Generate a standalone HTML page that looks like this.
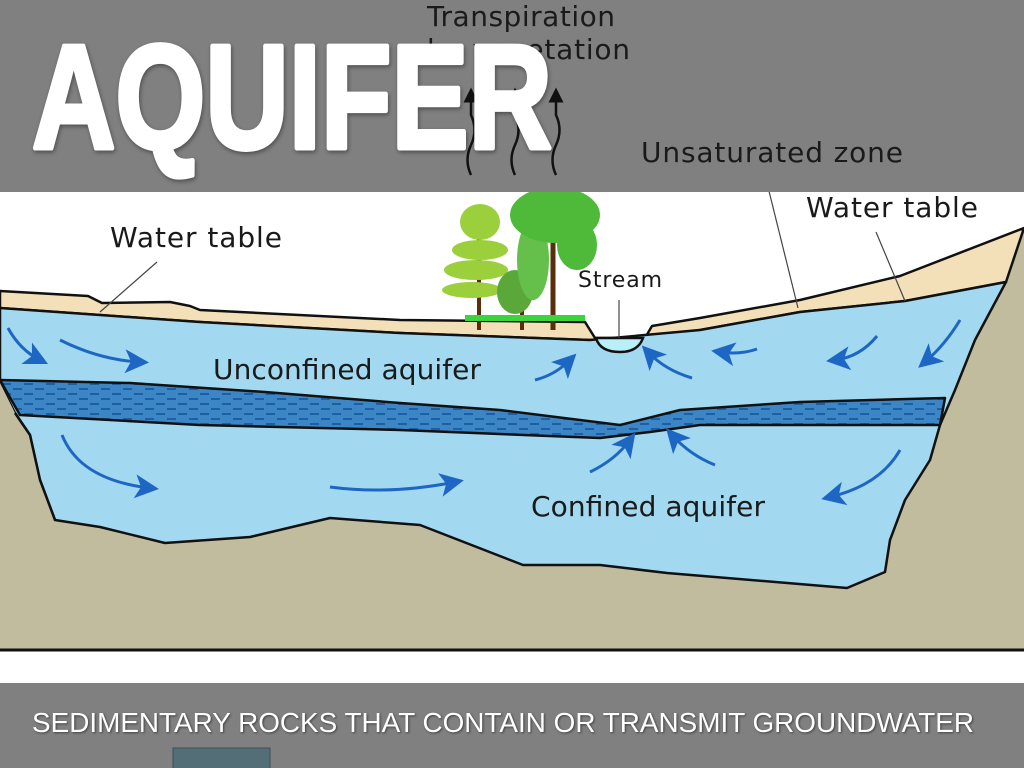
<!DOCTYPE html>
<html><head><meta charset="utf-8"><style>
html,body{margin:0;padding:0;width:1024px;height:768px;overflow:hidden;background:#fff}
svg{display:block}
</style></head><body>
<svg width="1024" height="768" viewBox="0 0 1024 768" xmlns="http://www.w3.org/2000/svg">
<defs>
<pattern id="dash" width="22" height="10" patternUnits="userSpaceOnUse">
<rect width="22" height="10" fill="#3d86c6"/>
<rect x="2" y="3" width="9" height="2" fill="#1d5fa6"/>
<rect x="13" y="8" width="9" height="2" fill="#1d5fa6"/>
</pattern>
<marker id="ah" markerWidth="8" markerHeight="8" refX="5" refY="4" orient="auto" markerUnits="strokeWidth">
<path d="M0,0 L8,4 L0,8 L2,4 z" fill="#1e66c4"/>
</marker>
<marker id="bh" markerWidth="6" markerHeight="6" refX="3" refY="3" orient="auto" markerUnits="strokeWidth">
<path d="M0,0 L6,3 L0,6 z" fill="#111"/>
</marker>
</defs>
<rect x="0" y="0" width="1024" height="768" fill="#fff"/>
<!-- ground -->
<path d="M0,320 L590,345 L1006,285 L1024,228 L1024,650 L0,650 z" fill="#c1bc9e"/>
<line x1="0" y1="650" x2="1024" y2="650" stroke="#111" stroke-width="3"/>
<!-- sand -->
<path d="M0,291 L88,296 L102,303 L170,302 L190,306 L200,310 L400,320 L585,322 L595,338 L645,338 L652,326 L700,318 L800,300 L900,276 L1024,228 L1006,282 L905,301 L800,312 L700,330 L645,338 L590,340 L400,333 L200,322 L100,315 L0,308 z" fill="#f3e0b8" stroke="#111" stroke-width="2.5" stroke-linejoin="round"/>
<!-- water body -->
<path d="M0,308 L100,315 L200,322 L400,333 L590,340 L700,330 L800,312 L905,301 L1006,282 L975,340 L955,390 L940,425 L930,460 L905,500 L890,540 L885,572 L847,588 L667,573 L600,565 L523,565 L420,525 L330,518 L250,537 L165,543 L100,527 L55,520 L40,480 L30,435 L15,413 L0,383 z" fill="#a2d9f0" stroke="#111" stroke-width="2.5" stroke-linejoin="round"/>
<!-- stream -->
<path d="M596,338 Q600,352 620,352 Q638,352 643,338 z" fill="#b9f0f8" stroke="#111" stroke-width="2.5"/>
<!-- confining layer -->
<path d="M0,380 L130,383 L265,392 L400,403 L500,410 L620,425 L680,410 L800,402 L945,398 L940,425 L800,425 L700,425 L650,432 L600,438 L400,430 L200,425 L20,415 z" fill="url(#dash)" stroke="#111" stroke-width="2.5" stroke-linejoin="round"/>
<!-- left ground edge -->
<path d="M0,383 L15,413 L30,435 L40,480 L55,520 L0,520 z" fill="#c1bc9e"/>
<path d="M15,413 L30,435 L40,480 L55,520" fill="none" stroke="#111" stroke-width="2.5"/>
<!-- flow arrows -->
<g fill="none" stroke="#1e66c4" stroke-width="3" marker-end="url(#ah)">
<path d="M8,328 Q20,350 40,360"/>
<path d="M60,340 Q100,360 140,362"/>
<path d="M535,380 Q555,375 570,360"/>
<path d="M692,378 Q665,370 648,352"/>
<path d="M757,349 Q740,355 720,352"/>
<path d="M877,336 Q860,357 835,360"/>
<path d="M960,320 Q945,345 925,362"/>
<path d="M62,435 Q80,480 150,488"/>
<path d="M330,487 Q390,495 455,482"/>
<path d="M590,472 Q615,460 630,440"/>
<path d="M715,465 Q690,455 672,435"/>
<path d="M900,450 Q880,485 830,497"/>
</g>
<!-- trees -->
<g>
<line x1="479" y1="225" x2="479" y2="330" stroke="#5a2d0c" stroke-width="4"/>
<line x1="522" y1="290" x2="522" y2="330" stroke="#5a2d0c" stroke-width="4"/>
<line x1="553" y1="215" x2="553" y2="330" stroke="#5a2d0c" stroke-width="5"/>
<ellipse cx="480" cy="222" rx="20" ry="18" fill="#9ccf3c"/>
<ellipse cx="480" cy="250" rx="28" ry="10" fill="#9ccf3c"/>
<ellipse cx="476" cy="270" rx="32" ry="10" fill="#9ccf3c"/>
<ellipse cx="472" cy="290" rx="30" ry="8" fill="#9ccf3c"/>
<ellipse cx="515" cy="292" rx="18" ry="22" fill="#5aa83a"/>
<ellipse cx="533" cy="260" rx="16" ry="40" fill="#64c04a"/>
<ellipse cx="555" cy="215" rx="45" ry="28" fill="#4fba3a"/>
<ellipse cx="577" cy="245" rx="20" ry="25" fill="#4fba3a"/>
<rect x="465" y="315" width="120" height="6" fill="#3cd43c"/>
</g>
<!-- leaders -->
<g stroke="#444" stroke-width="1.2">
<line x1="157" y1="262" x2="100" y2="312"/>
<line x1="765" y1="175" x2="798" y2="308"/>
<line x1="876" y1="232" x2="905" y2="301"/>
<line x1="619" y1="300" x2="619" y2="338"/>
</g>
<!-- diagram labels -->
<g font-family="DejaVu Sans, sans-serif" fill="#1a1a1a" lengthAdjust="spacingAndGlyphs">
<text x="110" y="247" font-size="28" textLength="172">Water table</text>
<text x="806" y="217" font-size="28" textLength="172">Water table</text>
<text x="578" y="287" font-size="22" textLength="84">Stream</text>
<text x="213" y="379" font-size="28" textLength="268">Unconfined aquifer</text>
<text x="531" y="516" font-size="28" textLength="234">Confined aquifer</text>
</g>
<!-- top banner -->
<rect x="0" y="0" width="1024" height="192" fill="#808080"/>
<g fill="none" stroke="#111" stroke-width="2.5" marker-end="url(#bh)">
<path d="M471,175 Q464,160 471,145 Q478,130 471,115 L471,95"/>
<path d="M515,175 Q508,160 515,145 Q522,130 515,115 L515,95"/>
<path d="M556,175 Q549,160 556,145 Q563,130 556,115 L556,95"/>
</g>
<g font-family="DejaVu Sans, sans-serif" fill="#1a1a1a" font-size="28" lengthAdjust="spacingAndGlyphs">
<text x="427" y="26" textLength="188">Transpiration</text>
<text x="427" y="59" textLength="203">by vegetation</text>
<text x="641" y="162" textLength="262">Unsaturated zone</text>
</g>
<text x="32" y="148" font-family="Liberation Sans, sans-serif" font-weight="bold" font-size="148" fill="#fff" stroke="#fff" stroke-width="5" stroke-linejoin="round" textLength="520" lengthAdjust="spacingAndGlyphs" style="filter:drop-shadow(1px 2px 2px rgba(0,0,0,.4))">AQUIFER</text>
<!-- bottom -->
<rect x="0" y="683" width="1024" height="85" fill="#808080"/>
<text x="32" y="732" font-family="Liberation Sans Narrow, Liberation Sans, sans-serif" font-size="28" fill="#fff" textLength="942" lengthAdjust="spacingAndGlyphs" style="filter:drop-shadow(1px 1px 1px rgba(0,0,0,.5))">SEDIMENTARY ROCKS THAT CONTAIN OR TRANSMIT GROUNDWATER</text>
<rect x="173" y="748" width="97" height="22" fill="#546e78" stroke="#3c4f57"/>
</svg>
</body></html>
